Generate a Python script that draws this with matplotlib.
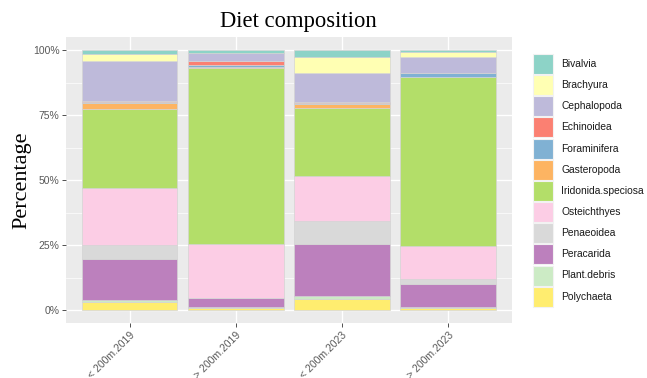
import matplotlib

matplotlib.use("Agg")
import matplotlib.pyplot as plt
from matplotlib.patches import Rectangle
from matplotlib.ticker import FixedLocator, PercentFormatter
import numpy as np

# 数据：各站点组的食性组成（百分比，自图中估读）
groups = ["< 200m.2019", "> 200m.2019", "< 200m.2023", "> 200m.2023"]
prey = ["Bivalvia", "Brachyura", "Cephalopoda", "Echinoidea", "Foraminifera",
        "Gasteropoda", "Iridonida.speciosa", "Osteichthyes", "Penaeoidea",
        "Peracarida", "Plant.debris", "Polychaeta"]
bivalvia = [1.5, 1.0, 2.6, 0.8]
brachyura = [2.8, 0.3, 6.4, 2.0]
cephalopoda = [15.2, 3.1, 10.8, 6.1]
echinoidea = [0.5, 1.4, 0.5, 0.0]
foraminifera = [0.5, 0.6, 0.5, 1.5]
gasteropoda = [2.0, 0.6, 1.4, 0.0]
iridonida = [30.7, 67.6, 26.2, 65.0]
osteichthyes = [21.8, 20.6, 17.3, 12.7]
penaeoidea = [5.5, 0.0, 9.0, 1.9]
peracarida = [15.5, 3.5, 20.0, 8.6]
plant_debris = [1.0, 0.3, 1.0, 0.4]
polychaeta = [3.0, 1.0, 4.3, 1.0]

values = [bivalvia, brachyura, cephalopoda, echinoidea, foraminifera, gasteropoda,
          iridonida, osteichthyes, penaeoidea, peracarida, plant_debris, polychaeta]

# ColorBrewer Set3（与 ggplot scale_fill_brewer 一致）
colors = ["#8DD3C7", "#FFFFB3", "#BEBADA", "#FB8072", "#80B1D3", "#FDB462",
          "#B3DE69", "#FCCDE5", "#D9D9D9", "#BC80BD", "#CCEBC5", "#FFED6F"]

W, H = 647, 378
fig = plt.figure(figsize=(W / 100, H / 100), dpi=100)
ax = fig.add_axes([0.102, 0.145, 0.689, 0.757])
ax.set_facecolor("#EBEBEB")

x = np.arange(1, len(groups) + 1)
arr = np.array(values, dtype=float)
arr = arr / arr.sum(axis=0)  # 归一到 100%

# ggplot 堆叠顺序：因子第一个水平在最上，最后一个在最下
bottom = np.zeros(len(groups))
for i in range(len(prey) - 1, -1, -1):
    ax.bar(x, arr[i], 0.9, bottom=bottom, color=colors[i],
           edgecolor="#D4D4D4", linewidth=0.5, zorder=3)
    bottom += arr[i]

ax.set_xlim(0.4, 4.6)
ax.set_ylim(-0.05, 1.05)
ax.yaxis.set_major_locator(FixedLocator([0, 0.25, 0.5, 0.75, 1.0]))
ax.yaxis.set_minor_locator(FixedLocator([0.125, 0.375, 0.625, 0.875]))
ax.yaxis.set_major_formatter(PercentFormatter(xmax=1.0, decimals=0))
ax.set_xticks(x)
ax.set_xticklabels(groups, rotation=45, ha="right", va="top", rotation_mode="anchor")

ax.grid(True, which="major", color="white", lw=1.0, zorder=0)
ax.grid(True, which="minor", axis="y", color="white", lw=0.5, zorder=0)
for s in ax.spines.values():
    s.set_visible(False)
ax.tick_params(axis="both", which="major", labelsize=7.5, labelcolor="#595959",
               color="#333333", length=2.7, width=0.6, pad=2)
ax.tick_params(axis="y", which="minor", length=0)
for p in ax.get_xticklabels() + ax.get_yticklabels():
    p.set_family("Liberation Sans")

ax.set_title("Diet composition", family="Liberation Serif", fontsize=16.3, pad=7, x=0.522)
ax.set_ylabel("Percentage", family="Liberation Serif", fontsize=16, labelpad=1)

# 图例：手工画色块，像素坐标（左上为原点）
lax = fig.add_axes([0, 0, 1, 1])
lax.set_xlim(0, W)
lax.set_ylim(H, 0)
lax.axis("off")
key_top, key_step, key_size = 54, 21.15, 20
for j, (name, c) in enumerate(zip(prey, colors)):
    y0 = key_top + j * key_step
    lax.add_patch(Rectangle((533, y0), key_size, key_size, facecolor=c,
                            edgecolor="#F2F2F2", linewidth=0.8))
    lax.text(561, y0 + key_size / 2, name, ha="left", va="center",
             fontsize=7.4, family="Liberation Sans", color="#1A1A1A")

fig.savefig("out.png", dpi=100)
